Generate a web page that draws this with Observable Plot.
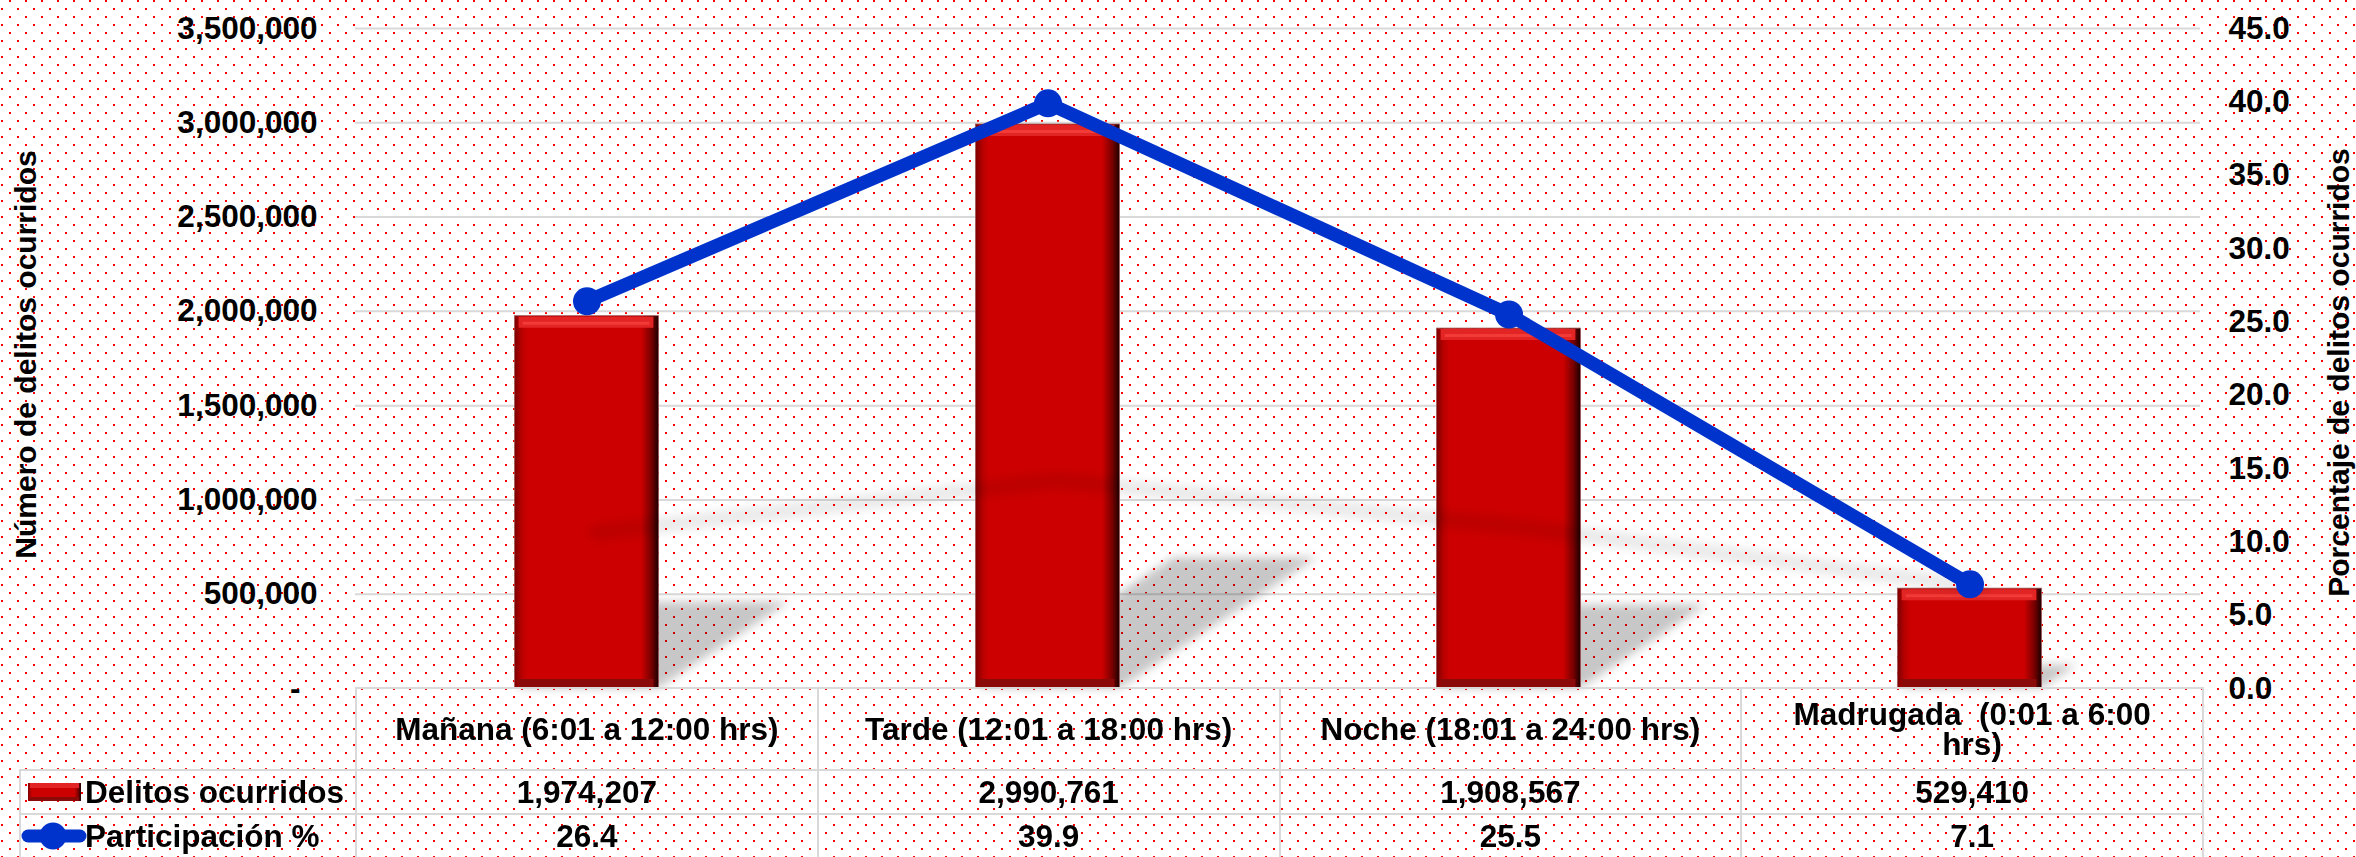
<!DOCTYPE html>
<html>
<head>
<meta charset="utf-8">
<script src="https://cdn.jsdelivr.net/npm/d3@7"></script>
<script src="https://cdn.jsdelivr.net/npm/@observablehq/plot@0.6"></script>
<style>
  html, body { margin: 0; padding: 0; }
  body {
    width: 2356px; height: 857px; overflow: hidden; position: relative;
    background-color: #ffffff;
    background-image: url("data:image/svg+xml,%3Csvg xmlns='http://www.w3.org/2000/svg' width='16' height='16'%3E%3Crect x='0' y='0' width='2' height='2' fill='%23ff0000'/%3E%3Crect x='8' y='8' width='2' height='2' fill='%23ff0000'/%3E%3C/svg%3E");
    background-position: 9px 0px;
    font-family: "Liberation Sans", Arial, sans-serif; font-weight: bold; color: #000;
  }
  #chart { position: absolute; left: 0; top: 0; }
  #chart svg { overflow: visible; }
  g[aria-description="bar-shadow"] { filter: url(#softBlur); }
  g[aria-description="bar-shadow"] rect {
    transform-box: fill-box; transform-origin: left bottom;
    transform: skewX(-56.5deg) scaleY(0.232);
  }
  g[aria-description="line-shadow"] { filter: url(#lineBlur); }
  g[aria-description="line-shadow"] path {
    transform-box: view-box; transform-origin: 0 0;
    transform: matrix(1, -0.0095, 0, 0.24, 10, 463);
    vector-effect: non-scaling-stroke;
  }
  #tbl {
    position: absolute; left: 19px; top: 687px;
    border-collapse: collapse; table-layout: fixed; width: 2183px;
    font-size: 31.5px; font-weight: bold;
  }
  #tbl td { border: 2px solid #d9d9d9; padding: 0; text-align: center; vertical-align: middle; white-space: pre-wrap; }
  #tbl td.corner { border-top: none; border-left: none; }
  #tbl tr.head td { height: 80px; }
  #tbl tr.row td { height: 42px; }
  #tbl .hd { width: 400px; margin: 0 auto; line-height: 30px; }
  #tbl td.leg { text-align: left; }
  .legwrap { display: flex; align-items: center; }
  .legbox { width: 64px; height: 30px; position: relative; flex: none; }
  .legbox svg { position: absolute; }
</style>
</head>
<body>
<svg width="0" height="0" style="position:absolute">
  <defs>
    <linearGradient id="barGrad" x1="0" x2="1" y1="0" y2="0">
      <stop offset="0" stop-color="#7e0000"/>
      <stop offset="0.05" stop-color="#b80000"/>
      <stop offset="0.09" stop-color="#cc0000"/>
      <stop offset="0.88" stop-color="#cc0000"/>
      <stop offset="0.95" stop-color="#780000"/>
      <stop offset="1" stop-color="#1e0000"/>
    </linearGradient>
    <filter id="softBlur" x="-20%" y="-30%" width="140%" height="160%">
      <feGaussianBlur stdDeviation="5"/>
    </filter>
    <filter id="lineBlur" x="-10%" y="-100%" width="120%" height="300%">
      <feGaussianBlur stdDeviation="4"/>
    </filter>
  </defs>
</svg>
<div id="chart"></div>
<table id="tbl"></table>
<script>
// ---- data ----
const categories = [
  "Mañana (6:01 a 12:00 hrs)",
  "Tarde (12:01 a 18:00 hrs)",
  "Noche (18:01 a 24:00 hrs)",
  "Madrugada  (0:01 a 6:00 hrs)"
];
const delitos = [1974207, 2990761, 1908567, 529410];
const participacion = [26.4, 39.9, 25.5, 7.1];
const leftTicks = [500000, 1000000, 1500000, 2000000, 2500000, 3000000, 3500000];
const rightTicks = [0, 5, 10, 15, 20, 25, 30, 35, 40, 45];
const seriesNames = ["Delitos ocurridos", "Participación %"];
const axisTitles = ["Número de delitos ocurridos", "Porcentaje de delitos ocurridos"];

// ---- chart ----
const yMax = 3500000, pMax = 45;
const k = yMax / pMax;
const rows = categories.map((c, i) => ({cat: c, delitos: delitos[i], pct: participacion[i]}));
const inset = 158.6;
const fmtInt = d3.format(",");

const plot = Plot.plot({
  width: 2356, height: 700,
  marginLeft: 355, marginRight: 156, marginTop: 28, marginBottom: 12,
  style: {background: "transparent", fontFamily: '"Liberation Sans", Arial, sans-serif',
          fontSize: "31.5px", fontWeight: "bold", color: "#000"},
  x: {domain: categories, padding: 0, axis: null},
  y: {domain: [0, yMax]},
  marks: [
    Plot.gridY(leftTicks, {stroke: "#d9d9d9", strokeOpacity: 1, strokeWidth: 2}),
    Plot.barY(rows, {x: "cat", y: "delitos", insetLeft: inset, insetRight: inset,
      fill: "#000", fillOpacity: 0.22, ariaDescription: "bar-shadow"}),
    Plot.barY(rows, {x: "cat", y: "delitos", insetLeft: inset, insetRight: inset,
      fill: "url(#barGrad)", stroke: "#9a5050", strokeWidth: 0.8}),
    Plot.tickY(rows, {x: "cat", y: "delitos", insetLeft: inset + 4, insetRight: inset + 5,
      stroke: "#e22424", strokeWidth: 11, dy: 6}),
    Plot.tickY(rows, {x: "cat", y: "delitos", insetLeft: inset + 8, insetRight: inset + 9,
      stroke: "#f23a36", strokeWidth: 3, dy: 7}),
    Plot.tickY(rows, {x: "cat", y: 0, insetLeft: inset + 4, insetRight: inset + 5,
      stroke: "#8a0a0a", strokeWidth: 9, dy: -5}),
    Plot.line(rows, {x: "cat", y: d => d.pct * k, stroke: "#000", strokeOpacity: 0.08,
      strokeWidth: 16, ariaDescription: "line-shadow"}),
    Plot.line(rows, {x: "cat", y: d => d.pct * k, stroke: "#0033cc", strokeWidth: 13.5}),
    Plot.dot(rows, {x: "cat", y: d => d.pct * k, r: 14, fill: "#0033cc", stroke: "none"}),
    Plot.axisY(leftTicks, {anchor: "left", tickSize: 0, tickPadding: 38,
      tickFormat: fmtInt, label: null}),
    Plot.axisY([0], {anchor: "left", tickSize: 0, tickPadding: 55,
      tickFormat: () => "-", label: null}),
    Plot.axisY(rightTicks.map(p => p * k), {anchor: "right", tickSize: 0, tickPadding: 28,
      tickFormat: v => (v / k).toFixed(1), label: null}),
    Plot.text([axisTitles[0]], {text: d => d, frameAnchor: "left", textAnchor: "middle",
      dx: -329, dy: -4, rotate: -90, fontSize: 30, fontWeight: "bold"}),
    Plot.text([axisTitles[1]], {text: d => d, frameAnchor: "right", textAnchor: "middle",
      dx: 139, dy: 14, rotate: -90, fontSize: 30, fontWeight: "bold"})
  ]
});
document.getElementById("chart").appendChild(plot);

// ---- data table ----
const tbl = d3.select("#tbl");
const cg = tbl.append("colgroup");
cg.append("col").style("width", "336px");
categories.forEach(() => cg.append("col").style("width", "461.75px"));

const head = tbl.append("tr").attr("class", "head");
head.append("td").attr("class", "corner");
categories.forEach(c => head.append("td").append("div").attr("class", "hd").text(c));

const barSwatch = `<svg width="53" height="18" style="left:7px;top:6px">
  <rect width="53" height="18" fill="url(#barGrad)"/>
  <rect x="2" width="49" height="5" fill="#e22424"/>
  <rect x="2" y="14" width="49" height="4" fill="#8a0a0a"/></svg>`;
const lineSwatch = `<svg width="66" height="30" style="left:0px;top:0px">
  <line x1="7" x2="59" y1="15" y2="15" stroke="#0033cc" stroke-width="13" stroke-linecap="round"/>
  <circle cx="32" cy="15" r="13.5" fill="#0033cc"/></svg>`;

const seriesRows = [
  {name: seriesNames[0], swatch: barSwatch, values: delitos.map(fmtInt)},
  {name: seriesNames[1], swatch: lineSwatch, values: participacion.map(v => v.toFixed(1))}
];
seriesRows.forEach(s => {
  const tr = tbl.append("tr").attr("class", "row");
  const lg = tr.append("td").attr("class", "leg").append("div").attr("class", "legwrap");
  lg.append("div").attr("class", "legbox").html(s.swatch);
  lg.append("span").text(s.name);
  s.values.forEach(v => tr.append("td").text(v));
});
</script>
</body>
</html>
